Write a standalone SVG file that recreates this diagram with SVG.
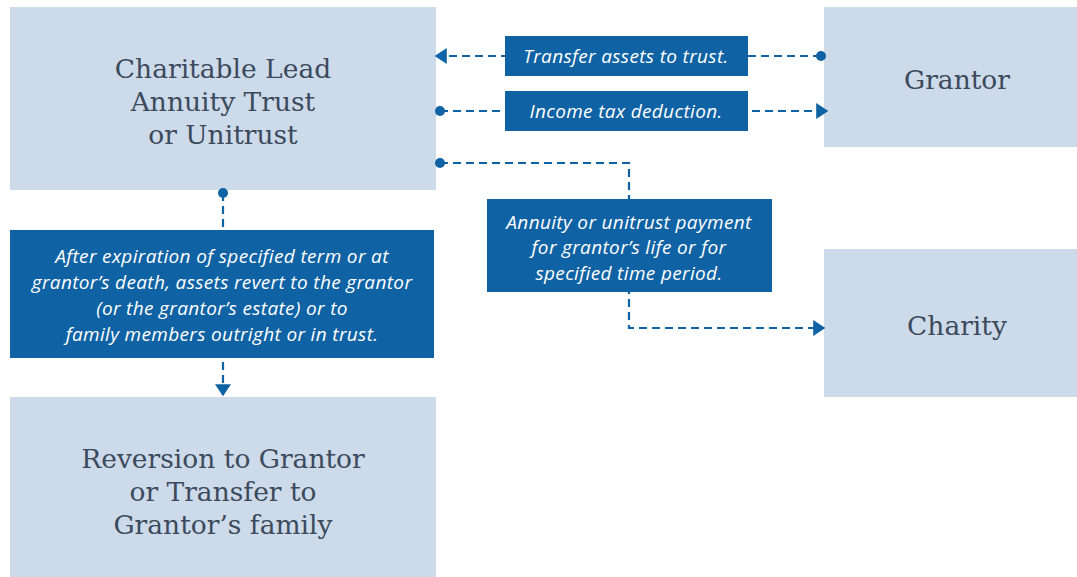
<svg xmlns="http://www.w3.org/2000/svg" width="1077" height="577" viewBox="0 0 1077 577">
<style>
.node{fill:#cddae9}
.nt{font-family:"DejaVu Serif","Liberation Serif",serif;font-size:26.5px;fill:#3b4a5c;text-anchor:middle}
.lb{fill:#0f62a3}
.lt{font-family:"Open Sans","Liberation Sans",sans-serif;font-style:italic;font-size:19px;letter-spacing:0.35px;fill:#fff;text-anchor:middle}
.c{fill:none;stroke:#0f62a3;stroke-width:2.2;stroke-dasharray:8 5}
.dot{fill:#0f62a3}
</style>
<defs>
<marker id="ah" viewBox="0 0 10 10" refX="9" refY="5" markerWidth="12" markerHeight="16" markerUnits="userSpaceOnUse" orient="auto" preserveAspectRatio="none">
<path d="M0,0 L10,5 L0,10 Z" fill="#0f62a3"/>
</marker>
</defs>
<rect width="1077" height="577" fill="#fff"/>
<g id="clat"><rect class="node" x="10" y="7" width="426" height="183"/>
<text class="nt" x="223" y="78">Charitable Lead</text><text class="nt" x="223" y="111">Annuity Trust</text><text class="nt" x="223" y="144">or Unitrust</text></g>
<g id="grantor"><rect class="node" x="824" y="7" width="253" height="140"/>
<text class="nt" x="957" y="89">Grantor</text></g>
<g id="charity"><rect class="node" x="824" y="249" width="253" height="148"/>
<text class="nt" x="957" y="335">Charity</text></g>
<g id="reversion"><rect class="node" x="10" y="397" width="426" height="180"/>
<text class="nt" x="223" y="468">Reversion to Grantor</text><text class="nt" x="223" y="501">or Transfer to</text><text class="nt" x="223" y="534">Grantor’s family</text></g>
<g id="connectors">
<path class="c" d="M821,56 H436" marker-end="url(#ah)"/>
<circle class="dot" cx="821" cy="56" r="5"/>
<path class="c" d="M440,111 H827" marker-end="url(#ah)"/>
<circle class="dot" cx="440" cy="111" r="5"/>
<path class="c" d="M440,163 H629 V328 H824" marker-end="url(#ah)"/>
<circle class="dot" cx="440" cy="163" r="5"/>
<path class="c" d="M223,193 V395" marker-end="url(#ah)"/>
<circle class="dot" cx="223" cy="193" r="5"/>
</g>
<g id="label-transfer"><rect class="lb" x="505" y="36" width="243" height="40"/>
<text class="lt" x="626" y="63">Transfer assets to trust.</text></g>
<g id="label-income"><rect class="lb" x="505" y="91" width="243" height="40"/>
<text class="lt" x="626" y="118">Income tax deduction.</text></g>
<g id="label-annuity"><rect class="lb" x="487" y="199" width="285" height="93"/>
<text class="lt" x="629" y="229">Annuity or unitrust payment</text><text class="lt" x="629" y="254">for grantor’s life or for</text><text class="lt" x="629" y="280">specified time period.</text></g>
<g id="label-after"><rect class="lb" x="10" y="230" width="424" height="128"/>
<text class="lt" x="222" y="263">After expiration of specified term or at</text><text class="lt" x="222" y="289">grantor’s death, assets revert to the grantor</text><text class="lt" x="222" y="315">(or the grantor’s estate) or to</text><text class="lt" x="222" y="341">family members outright or in trust.</text></g>
</svg>
